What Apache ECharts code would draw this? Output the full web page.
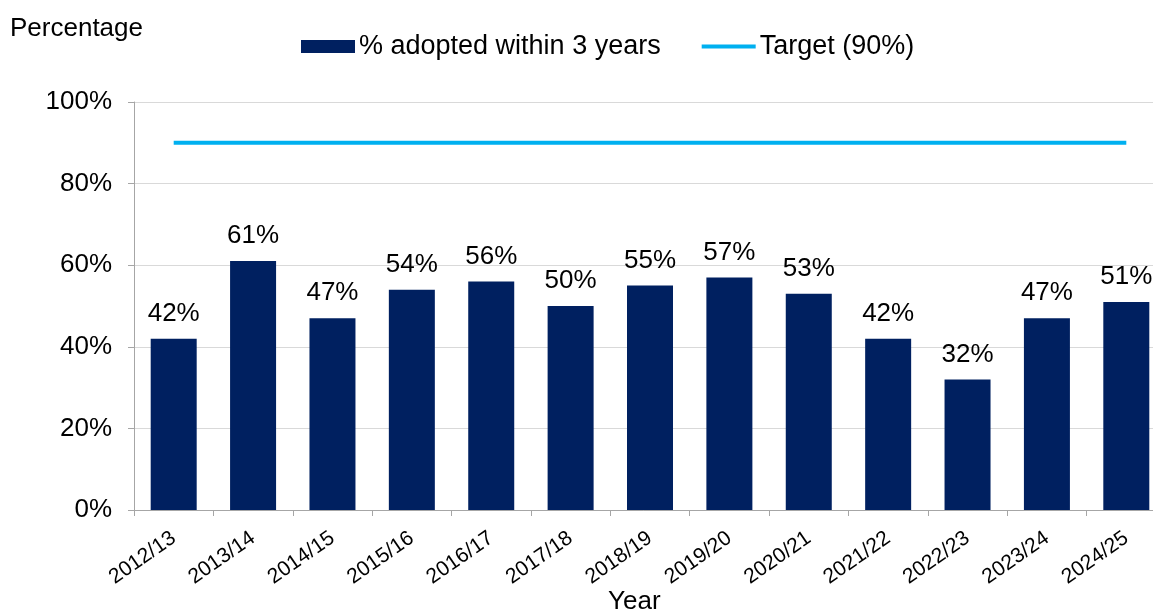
<!DOCTYPE html>
<html>
<head>
<meta charset="utf-8">
<script src="https://cdn.jsdelivr.net/npm/echarts@6/dist/echarts.min.js"></script>
<style>
  html, body { margin: 0; padding: 0; background: #fff; }
  #chart { width: 1153px; height: 612px; }
</style>
</head>
<body>
<div id="chart"></div>
<script>
// data
var years = ['2012/13', '2013/14', '2014/15', '2015/16', '2016/17', '2017/18', '2018/19',
             '2019/20', '2020/21', '2021/22', '2022/23', '2023/24', '2024/25'];
var adopted = [42, 61, 47, 54, 56, 50, 55, 57, 53, 42, 32, 47, 51];
var target = [90, 90, 90, 90, 90, 90, 90, 90, 90, 90, 90, 90, 90];
var yTicks = [0, 20, 40, 60, 80, 100];

var myChart = echarts.init(document.getElementById('chart'));

var font = 'Liberation Sans, Arial, sans-serif';

var option = {
    animation: false,
    textStyle: { fontFamily: font, color: '#000' },
    grid: { left: 134, top: 102, width: 1032, height: 408, outerBoundsMode: 'none', containLabel: false },
    graphic: [
        { type: 'text', left: 10, top: 16, style: { text: 'Percentage', font: '26px ' + font, fill: '#000' } },
        { type: 'text', left: 608, top: 589, style: { text: 'Year', font: '26px ' + font, fill: '#000' } }
    ],
    legend: {
        top: 28,
        left: 296,
        itemGap: 41,
        itemWidth: 54,
        itemHeight: 13,
        textStyle: { fontSize: 27, fontFamily: font, color: '#000', padding: [0, 0, 0, -1] },
        data: [
            { name: '% adopted within 3 years', icon: 'rect' },
            { name: 'Target (90%)', icon: 'path://M0,0 L54,0 L54,4 L0,4 Z' }
        ]
    },
    xAxis: {
        type: 'category',
        data: years,
        boundaryGap: true,
        axisLine: { lineStyle: { color: '#a6a6a6', width: 1 } },
        axisTick: { show: true, length: 6, lineStyle: { color: '#a6a6a6' } },
        axisLabel: { rotate: 35, fontSize: 21, color: '#000', margin: 26, fontFamily: font }
    },
    yAxis: {
        type: 'value',
        min: yTicks[0],
        max: yTicks[yTicks.length - 1],
        interval: 20,
        axisLine: { show: true, lineStyle: { color: '#a6a6a6' } },
        axisTick: { show: true, length: 6, lineStyle: { color: '#a6a6a6' } },
        axisLabel: { formatter: '{value}%', fontSize: 26, color: '#000', margin: 22, fontFamily: font },
        splitLine: { lineStyle: { color: '#d9d9d9', width: 1 } }
    },
    series: [
        {
            name: '% adopted within 3 years',
            type: 'bar',
            data: adopted,
            barWidth: 46,
            itemStyle: { color: '#002060' },
            label: {
                show: true,
                position: 'top',
                distance: 12,
                formatter: '{c}%',
                fontSize: 26,
                color: '#000',
                fontFamily: font
            }
        },
        {
            name: 'Target (90%)',
            type: 'line',
            data: target,
            symbol: 'none',
            lineStyle: { color: '#00b0f0', width: 4 },
            itemStyle: { color: '#00b0f0' }
        }
    ]
};

myChart.setOption(option);
</script>
</body>
</html>
